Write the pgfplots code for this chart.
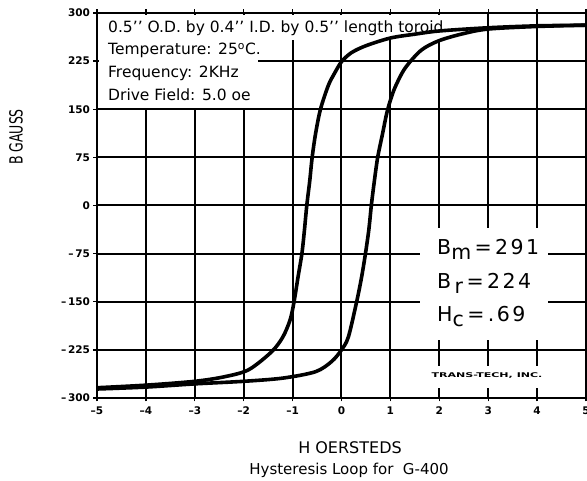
\documentclass[border=0pt]{standalone}
\usepackage{pgfplots}
\pgfplotsset{compat=1.18}
\usepackage{fontspec}
\setmainfont{DejaVu Sans}
\usepackage{graphicx}
\begin{document}
\begin{tikzpicture}
\begin{axis}[
  scale only axis, width=489pt, height=385pt,
  xmin=-5, xmax=5, ymin=-300, ymax=300,
  xtick={-5,-4,-3,-2,-1,0,1,2,3,4,5},
  ytick={-300,-225,-150,-75,0,75,150,225,300},
  xticklabels={–5,–4,–3,–2,–1,0,1,2,3,4,5},
  yticklabels={–\,300,–\,225,–\,150,–\,75,0,75,150,225,300},
  grid=major, grid style={draw=black, line width=2pt},
  axis line style={line width=2pt},
  tick align=outside, major tick length=3.5pt,
  tick style={black, line width=1.4pt},
  ticklabel style={font=\bfseries\fontsize{10.5}{11}\selectfont},
  xticklabel style={yshift=-2pt},
]
% white areas behind texts
\fill[white] (axis cs:-4.96,296.8) rectangle (axis cs:2.055,257.9);
\fill[white] (axis cs:-4.96,257.9) rectangle (axis cs:-1.708,151.9);
\fill[white] (axis cs:1.605,-35.1) rectangle (axis cs:4.223,-209.6);
\fill[white] (axis cs:1.708,-250.1) rectangle (axis cs:4.305,-284.4);

\node[anchor=base west, inner sep=0pt, font=\fontsize{15.5}{18}\selectfont] at (axis cs:-4.775,269) {0.5’’ O.D. by 0.4’’ I.D. by 0.5’’ length toroid};
\node[anchor=base west, inner sep=0pt, font=\fontsize{15.5}{18}\selectfont] at (axis cs:-4.775,235) {Temperature: 25\textsuperscript{o}C.};
\node[anchor=base west, inner sep=0pt, font=\fontsize{15.5}{18}\selectfont] at (axis cs:-4.775,199) {Frequency: 2KHz};
\node[anchor=base west, inner sep=0pt, font=\fontsize{15.5}{18}\selectfont] at (axis cs:-4.775,163) {Drive Field: 5.0 oe};

\node[anchor=base west, inner sep=0pt, font=\fontsize{20.5}{22}\selectfont\addfontfeature{LetterSpace=12}] at (axis cs:1.953,-77.1) {B\raisebox{-5pt}{m}\,=\,291};
\node[anchor=base west, inner sep=0pt, font=\fontsize{20.5}{22}\selectfont\addfontfeature{LetterSpace=12}] at (axis cs:1.953,-128.6) {B\,\raisebox{-5pt}{r}\,=\,224};
\node[anchor=base west, inner sep=0pt, font=\fontsize{20.5}{22}\selectfont\addfontfeature{LetterSpace=12}] at (axis cs:1.953,-181.5) {H\raisebox{-5pt}{c}\,=\,.69};
\node[anchor=base, inner sep=0pt] at (axis cs:2.975,-268.8) {\scalebox{1.7}[1]{\bfseries\fontsize{6.5}{7}\selectfont TRANS-TECH, INC.}};

% descending branch
\addplot[black, line width=3.6pt, smooth, tension=0.5] coordinates {
(5,281) (4,280) (3,277) (2,272) (1.5,267) (1,261) (0.5,249) (0.2,238) (0,224)
(-0.15,205) (-0.27,187) (-0.43,150) (-0.53,112) (-0.6,75) (-0.65,38) (-0.71,0)
(-0.76,-40) (-0.81,-75) (-0.89,-112) (-0.97,-150) (-1.05,-178) (-1.2,-205)
(-1.43,-228) (-1.9,-256) (-2.4,-267) (-3,-274) (-4,-280) (-5,-284)
};
% ascending branch
\addplot[black, line width=3.6pt, smooth, tension=0.5] coordinates {
(-5,-286) (-4,-283) (-3,-278) (-2,-274) (-1.2,-269) (-0.53,-259) (-0.2,-243)
(0,-225) (0.14,-205) (0.31,-150) (0.41,-112) (0.49,-75) (0.56,-37) (0.61,0)
(0.67,37) (0.74,75) (0.84,112) (0.92,142) (1.0,164) (1.1,185) (1.3,214)
(1.63,242) (2,257) (2.5,268) (3,275) (4,279) (5,281)
};
\end{axis}
\node[rotate=90, anchor=center, inner sep=0pt] at ([xshift=-81pt,yshift=261pt]current axis.south west) {\scalebox{1}[1.45]{\fontsize{12.5}{13}\selectfont B GAUSS}};
\node[anchor=base, inner sep=0pt, font=\fontsize{16}{18}\selectfont] at ([xshift=253pt,yshift=-56pt]current axis.south west) {H OERSTEDS};
\node[anchor=base, inner sep=0pt, font=\fontsize{15}{18}\selectfont] at ([xshift=252pt,yshift=-77pt]current axis.south west) {Hysteresis Loop for\ \ G-400};
\pgfresetboundingbox
\path[use as bounding box] ([xshift=-97pt,yshift=-83pt]current axis.south west) rectangle ([xshift=1pt,yshift=13pt]current axis.north east);
\end{tikzpicture}
\end{document}
